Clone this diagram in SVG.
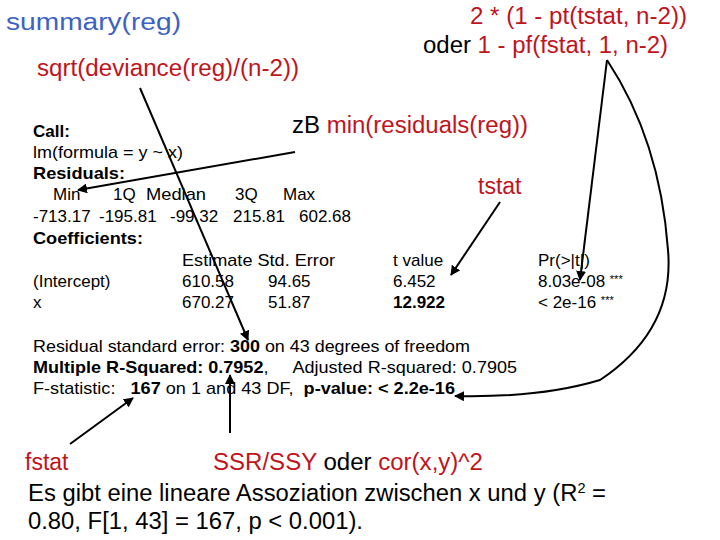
<svg xmlns="http://www.w3.org/2000/svg" width="720" height="540" viewBox="0 0 720 540">
<defs>
<style>
text{font-family:"Liberation Sans",Arial,sans-serif;fill:#000;white-space:pre}
.r{fill:#c0141c}.b{fill:#3d62c4}
.m{font-size:17px}.big{font-size:23px}
.bd{font-weight:bold}
.c{fill:none;stroke:#000;stroke-width:2}
</style>
<marker id="a" viewBox="0 0 10 10" refX="9" refY="5" markerWidth="5" markerHeight="5" orient="auto"><path d="M0,0L10,5L0,10z" fill="#000"/></marker>
</defs>
<rect width="720" height="540" fill="#fff"/>
<g id="title"><text class="big b" x="6" y="30" textLength="175" lengthAdjust="spacingAndGlyphs">summary(reg)</text></g>
<g id="sqrt"><text class="big r" x="37" y="76" textLength="262" lengthAdjust="spacingAndGlyphs">sqrt(deviance(reg)/(n-2))</text></g>
<g id="pval"><text class="big r" x="470" y="24" textLength="217" lengthAdjust="spacingAndGlyphs">2 * (1 - pt(tstat, n-2))</text>
<text class="big" x="423" y="53" textLength="245" lengthAdjust="spacingAndGlyphs">oder <tspan class="r">1 - pf(fstat, 1, n-2)</tspan></text></g>
<g id="zb"><text class="big" x="292" y="133" textLength="236" lengthAdjust="spacingAndGlyphs">zB <tspan class="r">min(residuals(reg))</tspan></text></g>
<g id="tstat"><text class="big r" x="478" y="194">tstat</text></g>
<g id="output">
<text class="m bd" x="33" y="137">Call:</text>
<text class="m" x="33" y="158" textLength="150" lengthAdjust="spacingAndGlyphs">lm(formula = y ~ x)</text>
<text class="m bd" x="33" y="179" textLength="92" lengthAdjust="spacingAndGlyphs">Residuals:</text>
<text class="m" x="53" y="200">Min</text><text class="m" x="113" y="200">1Q</text><text class="m" x="146" y="200" textLength="60" lengthAdjust="spacingAndGlyphs">Median</text><text class="m" x="235" y="200">3Q</text><text class="m" x="283" y="200">Max</text>
<text class="m" x="33" y="222">-713.17</text><text class="m" x="99" y="222">-195.81</text><text class="m" x="170" y="222">-99.32</text><text class="m" x="233" y="222">215.81</text><text class="m" x="299" y="222">602.68</text>
<text class="m bd" x="33" y="244" textLength="110" lengthAdjust="spacingAndGlyphs">Coefficients:</text>
<text class="m" x="182" y="266" textLength="153" lengthAdjust="spacingAndGlyphs">Estimate Std. Error</text><text class="m" x="393" y="266">t value</text><text class="m" x="538" y="266">Pr(&gt;|t|)</text>
<text class="m" x="33" y="287">(Intercept)</text><text class="m" x="182" y="287">610.58</text><text class="m" x="268" y="287">94.65</text><text class="m" x="393" y="287">6.452</text><text class="m" x="538" y="287">8.03e-08 <tspan font-size="11" dy="-4">***</tspan></text>
<text class="m" x="33" y="308">x</text><text class="m" x="182" y="308">670.27</text><text class="m" x="268" y="308">51.87</text><text class="m bd" x="393" y="308">12.922</text><text class="m" x="538" y="308">&lt; 2e-16 <tspan font-size="11" dy="-4">***</tspan></text>
<text class="m" x="33" y="352" textLength="437" lengthAdjust="spacingAndGlyphs">Residual standard error: <tspan class="bd">300</tspan> on 43 degrees of freedom</text>
<text class="m" x="33" y="373" textLength="484" lengthAdjust="spacingAndGlyphs"><tspan class="bd">Multiple R-Squared: 0.7952</tspan>,     Adjusted R-squared: 0.7905</text>
<text class="m" x="33" y="394" textLength="422" lengthAdjust="spacingAndGlyphs">F-statistic:   <tspan class="bd">167</tspan> on 1 and 43 DF,  <tspan class="bd">p-value: &lt; 2.2e-16</tspan></text>
</g>
<g id="fstat"><text class="big r" x="25" y="470">fstat</text></g>
<g id="ssr"><text class="big r" x="213" y="470" textLength="270" lengthAdjust="spacingAndGlyphs">SSR/SSY <tspan fill="#000">oder</tspan> cor(x,y)^2</text></g>
<g id="concl"><text class="big" x="28" y="501" textLength="578" lengthAdjust="spacingAndGlyphs">Es gibt eine lineare Assoziation zwischen x und y (R<tspan font-size="14" dy="-8">2</tspan><tspan dy="8"> =</tspan></text>
<text class="big" x="28" y="529" textLength="335" lengthAdjust="spacingAndGlyphs">0.80, F[1, 43] = 167, p &lt; 0.001).</text></g>
<g id="connectors">
<path class="c" d="M140,88 L248,340" marker-end="url(#a)"/>
<path class="c" d="M295,152 L78,190" marker-end="url(#a)"/>
<path class="c" d="M500,202 L451,275" marker-end="url(#a)"/>
<path class="c" d="M607,60 L580,280" marker-end="url(#a)"/>
<path class="c" d="M607,60 Q660,140 668,250 Q675,330 600,380 Q540,398 455,396" marker-end="url(#a)"/>
<path class="c" d="M70,444 L133,398" marker-end="url(#a)"/>
<path class="c" d="M230,433 L230,375" marker-end="url(#a)"/>
</g>
</svg>
